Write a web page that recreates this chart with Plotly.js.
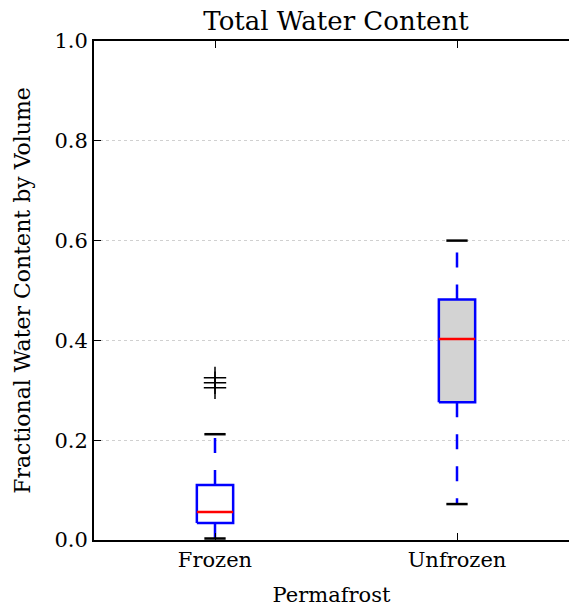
<!DOCTYPE html>
<html>
<head>
<meta charset="utf-8">
<script src="https://cdn.plot.ly/plotly-3.0.1.min.js"></script>
<style>html,body{margin:0;padding:0;overflow:hidden;background:#fff;}</style>
</head>
<body>
<div id="chart"></div>
<script>
// Data
const categories = ["Frozen", "Unfrozen"];
const positions = [1, 2];
const lowerWhisker = [0.003, 0.072];
const q1Values = [0.034, 0.276];
const medianValues = [0.056, 0.403];
const q3Values = [0.110, 0.482];
const upperWhisker = [0.212, 0.600];
const outliersFrozen = [0.305, 0.315, 0.325];
const boxFills = ["#ffffff", "#d3d3d3"];
const yTicks = [0.0, 0.2, 0.4, 0.6, 0.8, 1.0];

const boxHalf = 0.075, capHalf = 0.044;
const traces = [];
const serif = "DejaVu Serif, serif";

for (let i = 0; i < categories.length; i++) {
  const p = positions[i];
  // box
  traces.push({
    type: "scatter", mode: "lines", hoverinfo: "skip", showlegend: false,
    x: [p - boxHalf, p + boxHalf, p + boxHalf, p - boxHalf, p - boxHalf],
    y: [q1Values[i], q1Values[i], q3Values[i], q3Values[i], q1Values[i]],
    fill: "toself", fillcolor: boxFills[i],
    line: {color: "#0000ff", width: 2.5}
  });
  // median
  traces.push({
    type: "scatter", mode: "lines", hoverinfo: "skip", showlegend: false,
    x: [p - boxHalf, p + boxHalf], y: [medianValues[i], medianValues[i]],
    line: {color: "#ff0000", width: 2.5}
  });
  // whiskers
  traces.push({
    type: "scatter", mode: "lines", hoverinfo: "skip", showlegend: false,
    x: [p, p], y: [q3Values[i], upperWhisker[i]],
    line: {color: "#0000ff", width: 2.5, dash: "15px,17px"}
  });
  traces.push({
    type: "scatter", mode: "lines", hoverinfo: "skip", showlegend: false,
    x: [p, p], y: [q1Values[i], lowerWhisker[i]],
    line: {color: "#0000ff", width: 2.5, dash: "15px,17px"}
  });
  // caps
  traces.push({
    type: "scatter", mode: "lines", hoverinfo: "skip", showlegend: false,
    x: [p - capHalf, p + capHalf], y: [upperWhisker[i], upperWhisker[i]],
    line: {color: "#000000", width: 2.5}
  });
  traces.push({
    type: "scatter", mode: "lines", hoverinfo: "skip", showlegend: false,
    x: [p - capHalf, p + capHalf], y: [lowerWhisker[i], lowerWhisker[i]],
    line: {color: "#000000", width: 2.5}
  });
}
// outliers
traces.push({
  type: "scatter", mode: "markers", hoverinfo: "skip", showlegend: false,
  x: outliersFrozen.map(() => positions[0]), y: outliersFrozen,
  marker: {symbol: "cross-thin", size: 16, line: {color: "#000000", width: 1.5}}
});

const layout = {
  width: 569, height: 608,
  margin: {l: 94, r: 0, t: 41, b: 68},
  paper_bgcolor: "#ffffff", plot_bgcolor: "#ffffff",
  font: {family: serif, color: "#000000", size: 21},
  title: {text: "Total Water Content", font: {family: serif, size: 26, color: "#000000"},
          x: 0.5095, xref: "paper", xanchor: "center", y: 1, yref: "paper", yanchor: "bottom", pad: {b: 11}},
  xaxis: {
    range: [0.5, 2.4628], tickvals: positions, ticktext: categories,
    showgrid: false, zeroline: false,
    showline: true, linecolor: "#000000", linewidth: 2, mirror: "ticks",
    ticks: "inside", ticklen: 7, tickwidth: 1, tickcolor: "#000000",
    tickfont: {family: serif, size: 21, color: "#000000"},
    title: {text: "Permafrost", font: {family: serif, size: 21, color: "#000000"}, standoff: 16}
  },
  yaxis: {
    range: [0, 1], tickvals: yTicks, ticktext: yTicks.map(v => v.toFixed(1)),
    showgrid: true, gridcolor: "#d0d0d0", griddash: "dot", gridwidth: 1,
    zeroline: false,
    showline: true, linecolor: "#000000", linewidth: 2, mirror: false,
    ticks: "inside", ticklen: 7, tickwidth: 1, tickcolor: "#000000",
    tickfont: {family: serif, size: 21, color: "#000000"},
    title: {text: "Fractional Water Content by Volume", font: {family: serif, size: 22, color: "#000000"}, standoff: 18}
  }
};

Plotly.newPlot("chart", traces, layout, {displayModeBar: false, staticPlot: true});
</script>
</body>
</html>
